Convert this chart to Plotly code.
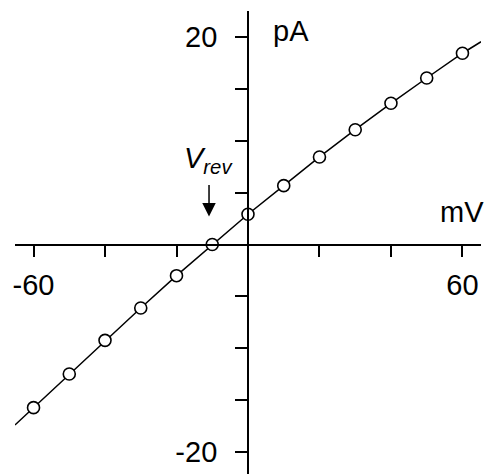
import plotly.graph_objects as go

# Data
voltage_mv = [-60, -50, -40, -30, -20, -10, 0, 10, 20, 30, 40, 50, 60]
current_pa = [-15.75, -12.5, -9.25, -6.13, -3.01, 0.0, 2.92, 5.68, 8.45, 11.08, 13.63, 16.07, 18.46]

fit_x = [-65.2] + voltage_mv + [65.2]
fit_y = [-17.42] + current_pa + [19.57]

x_tickvals = [-60, -40, -20, 20, 40, 60]
x_ticktext = ["-60", "", "", "", "", "60"]
y_tickvals = [-20, -15, -10, -5, 5, 10, 15, 20]
y_ticktext = ["-20", "", "", "", "", "", "", "20"]

W, H = 489, 474
FONT = "Liberation Sans, Arial, sans-serif"
FS = 29

fig = go.Figure()
fig.add_trace(go.Scatter(x=fit_x, y=fit_y, mode="lines",
                         line=dict(color="black", width=1.5),
                         hoverinfo="skip", showlegend=False, cliponaxis=False))
fig.add_trace(go.Scatter(x=voltage_mv, y=current_pa, mode="markers",
                         marker=dict(symbol="circle", size=12, color="white",
                                     line=dict(color="black", width=1.6)),
                         showlegend=False, cliponaxis=False))

# axis geometry (pixels)
x0_px, x1_px = 13, 481
y_top_px, y_bot_px = 11, 474
zero_x_px, zero_y_px = 247, 244.5

fig.update_layout(
    width=W, height=H,
    margin=dict(l=0, r=0, t=0, b=0),
    paper_bgcolor="white", plot_bgcolor="white",
    font=dict(family=FONT, size=FS, color="black"),
    xaxis=dict(
        domain=[x0_px / W, x1_px / W],
        range=[-65.2, 65.2],
        anchor="free", position=1 - zero_y_px / H,
        showline=True, linecolor="black", linewidth=1.8,
        showgrid=False, zeroline=False,
        ticks="outside", ticklen=12, tickwidth=1.5, tickcolor="black",
        tickvals=x_tickvals, ticktext=x_ticktext,
        tickfont=dict(family=FONT, size=FS, color="black"),
        ticklabelstandoff=3,
    ),
    yaxis=dict(
        domain=[1 - y_bot_px / H, 1 - y_top_px / H],
        range=[(zero_y_px - y_bot_px) / 10.36, (zero_y_px - y_top_px) / 10.36],
        anchor="free", position=zero_x_px / W,
        showline=True, linecolor="black", linewidth=1.8,
        showgrid=False, zeroline=False,
        ticks="outside", ticklen=12, tickwidth=1.5, tickcolor="black",
        tickvals=y_tickvals, ticktext=y_ticktext,
        tickfont=dict(family=FONT, size=FS, color="black"),
        ticklabelstandoff=12,
    ),
)

fig.add_annotation(x=6.4, y=20.6, xref="x", yref="y", text="pA",
                   xanchor="left", yanchor="middle", showarrow=False,
                   font=dict(family=FONT, size=FS, color="black"))
fig.add_annotation(x=59.8, y=3.1, xref="x", yref="y", text="mV",
                   xanchor="center", yanchor="middle", showarrow=False,
                   font=dict(family=FONT, size=FS, color="black"))
fig.add_annotation(x=-18.4, y=8.2, xref="x", yref="y", text="<i>V<sub>rev</sub></i>",
                   xanchor="left", yanchor="middle", showarrow=False,
                   font=dict(family=FONT, size=FS, color="black"))
fig.add_annotation(x=-10.9, y=2.7, xref="x", yref="y", text="",
                   ax=-10.9, ay=5.9, axref="x", ayref="y",
                   showarrow=True, arrowhead=2, arrowsize=1.8, arrowwidth=1.5,
                   arrowcolor="black")

fig.write_html("out.html")
